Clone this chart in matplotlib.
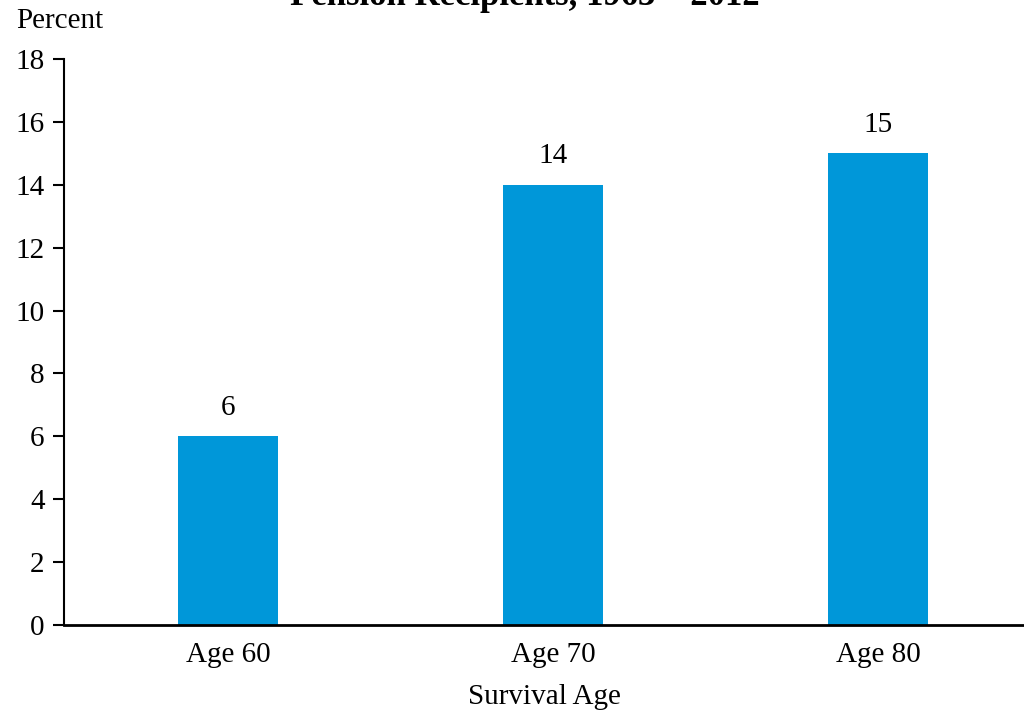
import matplotlib
matplotlib.use('Agg')
import matplotlib.pyplot as plt

categories = ['Age 60', 'Age 70', 'Age 80']
values = [6, 14, 15]
title = 'Pension Recipients, 1963 \u2013 2012'

plt.rcParams['font.family'] = ['Liberation Serif', 'DejaVu Serif']

fig = plt.figure(figsize=(10.24, 7.12), dpi=100)
ax = fig.add_axes([0.0625, 0.1222, 0.9375, 0.7950])

x = list(range(len(categories)))
ax.bar(x, values, width=0.31, color='#0097D9', zorder=2)
for xi, v in zip(x, values):
    ax.text(xi, v + 0.5, f'{v}', ha='center', va='bottom', fontsize=21)

ax.set_xlim(-0.505, 2.449)
ax.set_ylim(0, 18)
ax.set_yticks(range(0, 19, 2))
ax.set_xticks(x)
ax.set_xticklabels(categories)
ax.tick_params(axis='y', labelsize=21, length=8, width=1.5, direction='out', pad=6)
ax.tick_params(axis='x', labelsize=21, length=0, pad=12)
for s in ['top', 'right']:
    ax.spines[s].set_visible(False)
ax.spines['left'].set_linewidth(1.5)
ax.spines['bottom'].set_linewidth(2)

ax.set_xlabel('Survival Age', fontsize=21, labelpad=12)
fig.text(0.016, 0.9607, 'Percent', fontsize=21, ha='left', va='baseline')
fig.text(0.513, 0.993, title, fontsize=25, fontweight='bold', ha='center', va='baseline')

fig.savefig('out.png', dpi=100)
